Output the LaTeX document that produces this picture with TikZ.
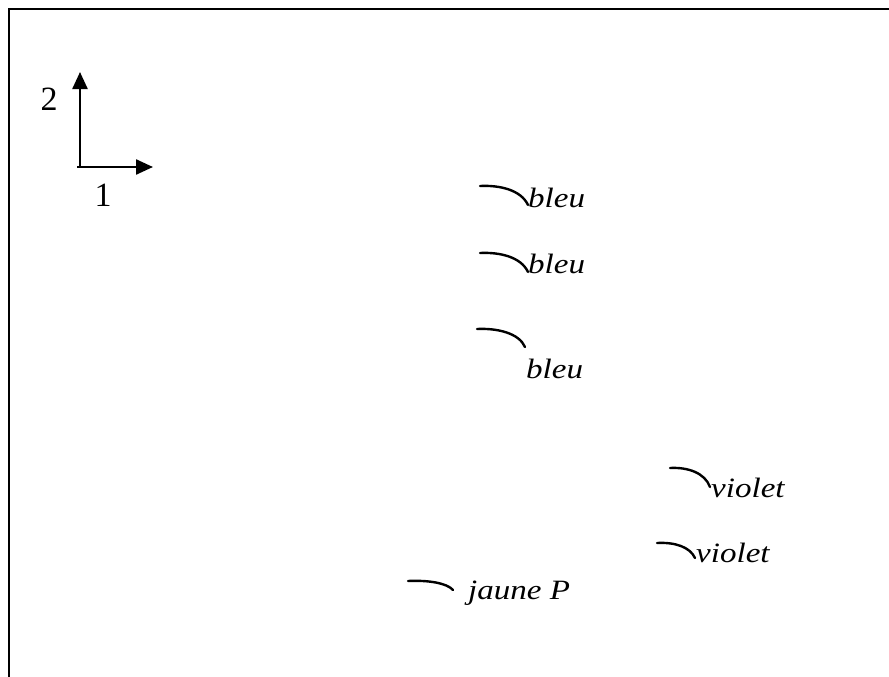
\documentclass[tikz,border=0pt]{standalone}
\usepackage{fontspec}
\setmainfont{Liberation Serif}
\usetikzlibrary{arrows.meta}
\tikzset{
  frameline/.style={line width=2.4pt, black},
  axisline/.style={line width=2.4pt, -{Triangle[length=17pt,width=15pt]}},
  arcline/.style={line width=2.4pt, line cap=round},
  lbl/.style={anchor=base west, inner sep=0pt, font=\fontsize{28pt}{30pt}\selectfont\itshape},
  digit/.style={anchor=center, inner sep=0pt, font=\fontsize{34pt}{36pt}\selectfont}
}
\newcommand{\wide}[1]{\scalebox{1.18}[1]{#1}}
\begin{document}
\begin{tikzpicture}[x=1pt,y=-1pt]
\useasboundingbox (0,0) rectangle (889,677);
% frame (top and left)
\coordinate (F1) at (9,677);
\coordinate (F2) at (9,9);
\coordinate (F3) at (889,9);
\draw[frameline] (F1) -- (F2) -- (F3);
% axes
\coordinate (O) at (80,167);
\coordinate (Y) at (80,72);
\coordinate (X) at (153,167);
\draw[axisline] (O) -- (Y);
\draw[axisline] ([xshift=-3pt]O) -- (X);
\node[digit] (d2) at (49,99) {2};
\node[digit] (d1) at (103,195) {1};
% labels
\node[lbl] (b1) at (528,207) {\wide{bleu}};
\node[lbl] (b2) at (528,273) {\wide{bleu}};
\node[lbl] (b3) at (526,378) {\wide{bleu}};
\node[lbl] (v1) at (711,497) {\wide{violet}};
\node[lbl] (v2) at (696,562) {\wide{violet}};
\node[lbl] (j1) at (468,599) {\wide{jaune P}};
% arcs
\coordinate (a1s) at (480,186); \coordinate (a1e) at (528,205);
\coordinate (a2s) at (480,253); \coordinate (a2e) at (528,272);
\coordinate (a3s) at (477,329); \coordinate (a3e) at (525,347);
\coordinate (a4s) at (670,468); \coordinate (a4e) at (710,487);
\coordinate (a5s) at (657,543); \coordinate (a5e) at (695,558);
\coordinate (a6s) at (408,581); \coordinate (a6e) at (453,590);
\draw[arcline] (a1s) .. controls (500,185) and (521,190) .. (a1e);
\draw[arcline] (a2s) .. controls (500,252) and (521,257) .. (a2e);
\draw[arcline] (a3s) .. controls (497,328) and (519,333) .. (a3e);
\draw[arcline] (a4s) .. controls (688,467) and (705,473) .. (a4e);
\draw[arcline] (a5s) .. controls (675,542) and (690,547) .. (a5e);
\draw[arcline] (a6s) .. controls (428,580) and (447,583) .. (a6e);
\end{tikzpicture}
\end{document}
